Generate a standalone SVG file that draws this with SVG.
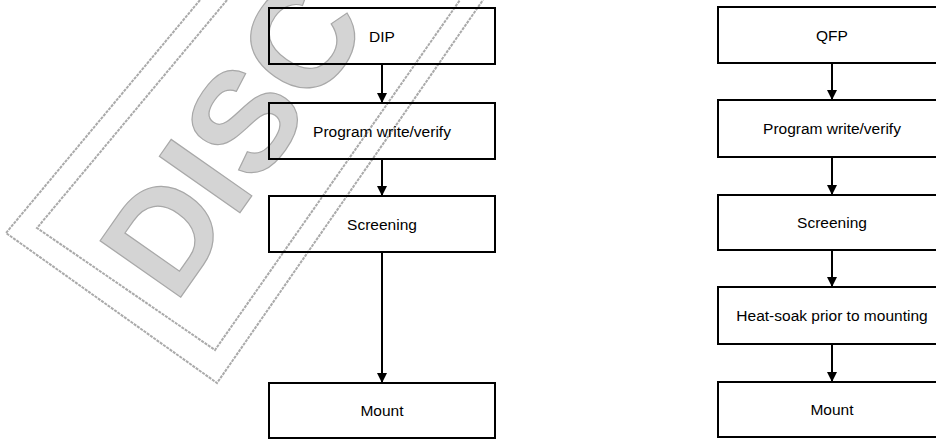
<svg xmlns="http://www.w3.org/2000/svg" width="936" height="439" viewBox="0 0 936 439">
<style>
.box{fill:none;stroke:#000;stroke-width:2}
.lbl{font-family:"Liberation Sans",Arial,sans-serif;font-size:15.5px;fill:#000;text-anchor:middle}
.conn{stroke:#000;stroke-width:2;fill:none}
.wm{fill:none;stroke:#aaa;stroke-width:2;stroke-dasharray:3 1}
.wmt{font-family:"Liberation Sans",Arial,sans-serif;font-weight:bold;font-size:143px;fill:#d4d4d4;stroke:#a8a8a8;stroke-width:1.2}
</style>
<defs>
<marker id="ah" markerUnits="userSpaceOnUse" markerWidth="10" markerHeight="12" refX="10" refY="5" orient="auto">
<path d="M0,0 L10,5 L0,10 Z" fill="#000"/>
</marker>
</defs>
<rect width="936" height="439" fill="#fff"/>
<g id="watermark">
<polyline class="wm" points="200,0 6,233 217,383 483,0"/>
<polyline class="wm" points="227,0 37,228 215,350 460,0"/>
<text class="wmt" transform="translate(6,233) rotate(-55)" x="38" y="180">DISC</text>
</g>
<g id="connectors">
<line class="conn" x1="382" y1="64" x2="382" y2="103" marker-end="url(#ah)"/>
<line class="conn" x1="382" y1="159" x2="382" y2="196" marker-end="url(#ah)"/>
<line class="conn" x1="382" y1="252" x2="382" y2="383" marker-end="url(#ah)"/>
<line class="conn" x1="832" y1="63" x2="832" y2="100" marker-end="url(#ah)"/>
<line class="conn" x1="832" y1="157" x2="832" y2="195" marker-end="url(#ah)"/>
<line class="conn" x1="832" y1="250" x2="832" y2="287" marker-end="url(#ah)"/>
<line class="conn" x1="832" y1="344" x2="832" y2="382" marker-end="url(#ah)"/>
</g>
<g id="dip"><rect class="box" x="269" y="8" width="226" height="56"/><text class="lbl" x="382" y="42">DIP</text></g>
<g id="prog-left"><rect class="box" x="269" y="103" width="226" height="56"/><text class="lbl" x="382" y="137">Program write/verify</text></g>
<g id="screen-left"><rect class="box" x="269" y="196" width="226" height="56"/><text class="lbl" x="382" y="230">Screening</text></g>
<g id="mount-left"><rect class="box" x="269" y="383" width="226" height="55"/><text class="lbl" x="382" y="416">Mount</text></g>
<g id="qfp"><rect class="box" x="718" y="7" width="228" height="56"/><text class="lbl" x="832" y="41">QFP</text></g>
<g id="prog-right"><rect class="box" x="718" y="100" width="228" height="57"/><text class="lbl" x="832" y="134">Program write/verify</text></g>
<g id="screen-right"><rect class="box" x="718" y="195" width="228" height="55"/><text class="lbl" x="832" y="228">Screening</text></g>
<g id="heat"><rect class="box" x="718" y="287" width="228" height="57"/><text class="lbl" x="832" y="321">Heat-soak prior to mounting</text></g>
<g id="mount-right"><rect class="box" x="718" y="382" width="228" height="55"/><text class="lbl" x="832" y="415">Mount</text></g>
</svg>
